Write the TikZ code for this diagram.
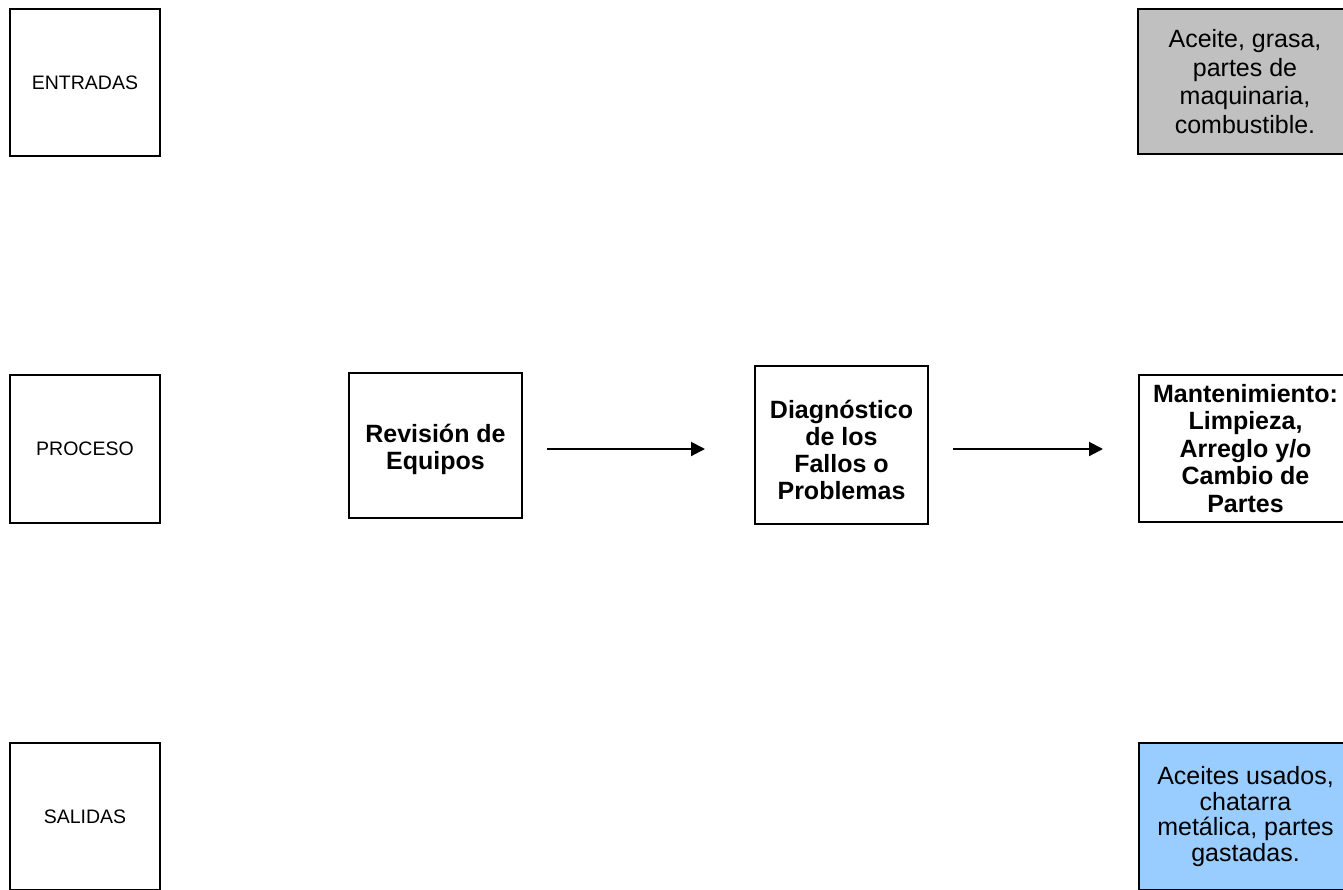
\documentclass[tikz,border=0pt]{standalone}
\usepackage{fontspec}
\setmainfont{Liberation Sans}
\usetikzlibrary{arrows.meta}
\definecolor{boxgray}{HTML}{C0C0C0}
\definecolor{boxblue}{HTML}{99CCFF}
\tikzset{
  lbl/.style={draw=black, line width=2.2pt, rectangle, inner sep=0pt, align=center,
    font=\fontsize{19.5}{23}\selectfont},
  pbox/.style={draw=black, line width=2.2pt, rectangle, inner sep=0pt, align=center,
    font=\fontsize{25}{27.5}\selectfont\bfseries},
  rbox/.style={draw=black, line width=2.2pt, rectangle, inner sep=0pt, align=center,
    font=\fontsize{25}{28.5}\selectfont},
  ptext/.style={inner sep=0pt, align=center, font=\fontsize{25}{27}\selectfont\bfseries},
  arr/.style={line width=2pt, -{Triangle[length=14pt,width=14pt]}}
}
\begin{document}
\begin{tikzpicture}[x=1pt,y=-1pt]
\useasboundingbox (0,0) rectangle (1343,889);
\clip (0,0) rectangle (1343,889);
\fill[white] (0,0) rectangle (1343,889);
\node[lbl, minimum width=150pt, minimum height=147pt] (ent) at (85,82.5) {ENTRADAS};
\node[lbl, minimum width=150pt, minimum height=148pt] (pro) at (85,449) {PROCESO};
\node[lbl, minimum width=150pt, minimum height=147pt] (sal) at (85,816.5) {SALIDAS};
\node[pbox, minimum width=173pt, minimum height=145pt] (rev) at (435.5,445.5) {};
\node[ptext] (revt) at (435.5,449) {Revisión de\\Equipos};
\node[pbox, minimum width=173pt, minimum height=158pt] (diag) at (841.5,445) {};
\node[ptext] (diagt) at (841.5,450) {Diagnóstico\\de los\\Fallos o\\Problemas};
\node[pbox, minimum width=213pt, minimum height=147pt] (mant) at (1245.5,448.5) {Mantenimiento:\\Limpieza,\\Arreglo y/o\\Cambio de\\Partes};
\node[rbox, fill=boxgray, minimum width=214pt, minimum height=145pt] (inp) at (1245,81.5) {Aceite, grasa,\\partes de\\maquinaria,\\combustible.};
\node[rbox, fill=boxblue, minimum width=213pt, minimum height=147pt, font=\fontsize{25}{25.5}\selectfont] (outp) at (1245.5,816.5) {Aceites usados,\\chatarra\\metálica, partes\\gastadas.};
\coordinate (a1s) at (547,449);
\coordinate (a1e) at (705,449);
\coordinate (a2s) at (953,449);
\coordinate (a2e) at (1103,449);
\draw[arr] (a1s) -- (a1e);
\draw[arr] (a2s) -- (a2e);
\end{tikzpicture}
\end{document}
